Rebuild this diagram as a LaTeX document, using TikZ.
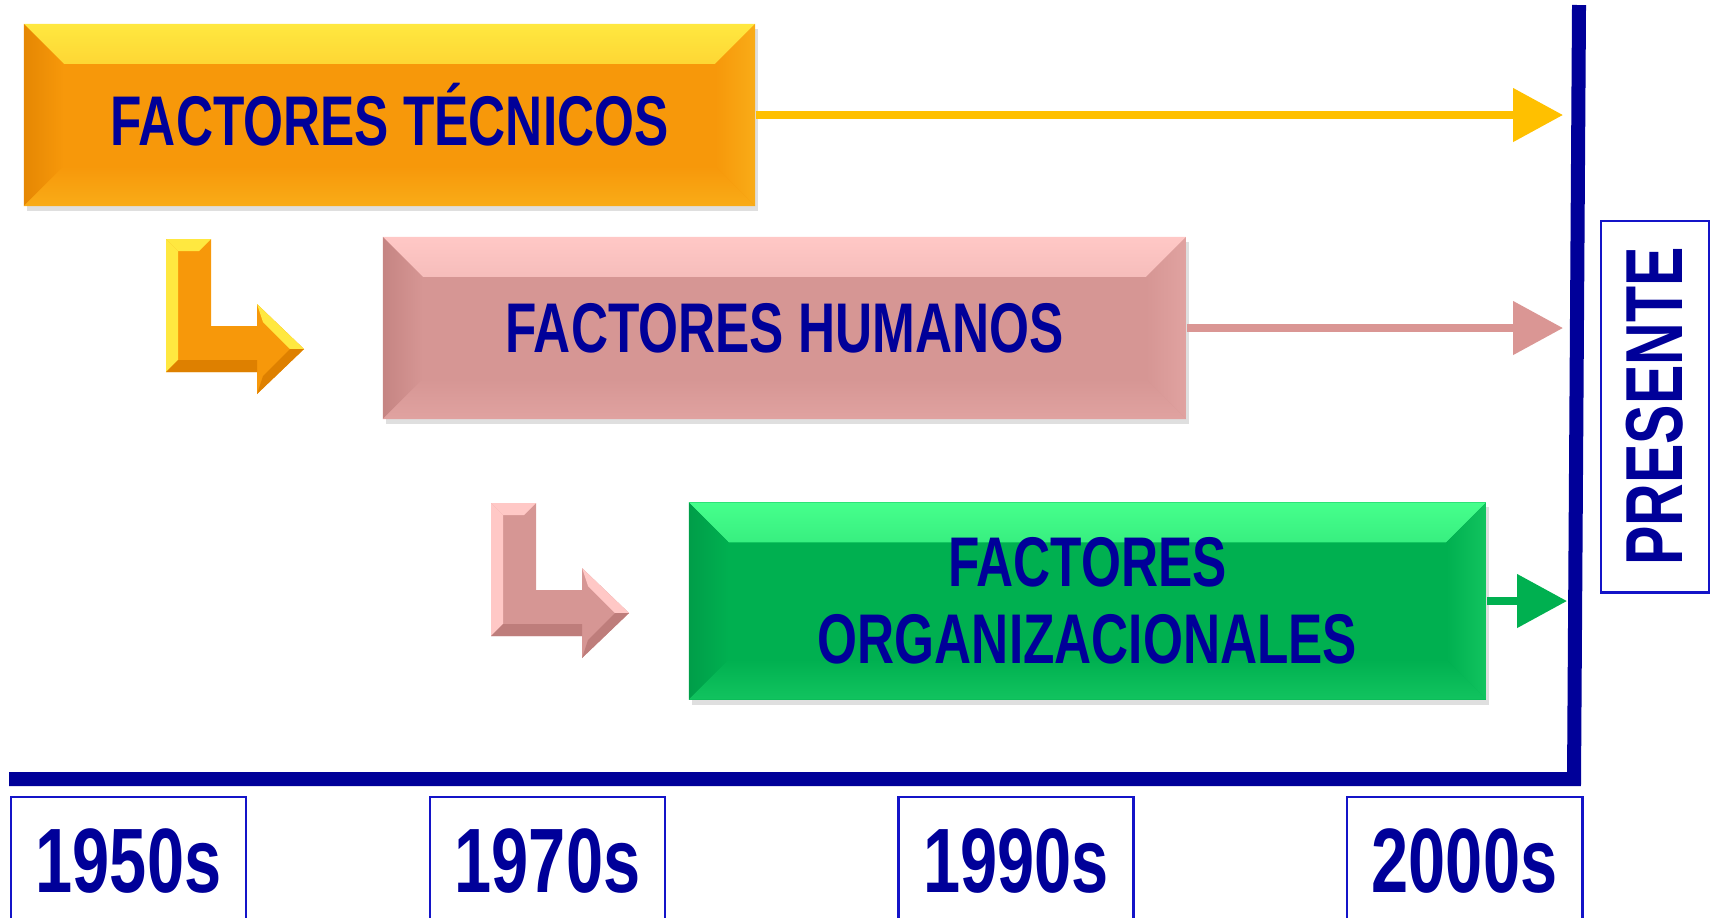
\documentclass[tikz,border=0pt]{standalone}
\usepackage{fontspec}
\setmainfont{Liberation Sans}[FakeStretch=0.73]
\usetikzlibrary{arrows.meta,calc,shadows}
\definecolor{navy}{RGB}{0,0,153}
\definecolor{frame}{RGB}{20,20,200}
\definecolor{tec}{RGB}{247,152,10}
\definecolor{tecLight}{RGB}{255,232,64}
\definecolor{tecDark}{RGB}{222,128,0}
\definecolor{tecLine}{RGB}{255,192,0}
\definecolor{hum}{RGB}{214,150,148}
\definecolor{humLight}{RGB}{255,200,198}
\definecolor{humDark}{RGB}{190,125,123}
\definecolor{humLine}{RGB}{218,150,148}
\definecolor{org}{RGB}{0,176,80}
\definecolor{orgLight}{RGB}{70,255,140}
\definecolor{orgDark}{RGB}{0,150,70}
\def\bevelsize{0.4cm}
% bevelled facets round a factor box (used as path picture)
\newcommand{\bevel}[2]{%
  \shade[top color=#2Light, middle color=#2, bottom color=#2] (#1.north west) -- (#1.north east)
    -- ([shift={(-\bevelsize,-\bevelsize)}]#1.north east) -- ([shift={(\bevelsize,-\bevelsize)}]#1.north west) -- cycle;
  \shade[left color=#2Dark!70!#2, right color=#2] (#1.north west) -- ([shift={(\bevelsize,-\bevelsize)}]#1.north west)
    -- ([shift={(\bevelsize,\bevelsize)}]#1.south west) -- (#1.south west) -- cycle;
  \shade[right color=#2Light!25!#2, left color=#2] (#1.north east) -- ([shift={(-\bevelsize,-\bevelsize)}]#1.north east)
    -- ([shift={(-\bevelsize,\bevelsize)}]#1.south east) -- (#1.south east) -- cycle;
  \shade[bottom color=#2Light!25!#2, top color=#2] (#1.south west) -- (#1.south east)
    -- ([shift={(-\bevelsize,\bevelsize)}]#1.south east) -- ([shift={(\bevelsize,\bevelsize)}]#1.south west) -- cycle;
}

\begin{document}
\begin{tikzpicture}[x=0.01cm, y=-0.01cm]
    \tikzstyle{factor box}=[rectangle, inner sep=0pt, align=center, text=navy,
        font=\bfseries\fontsize{20}{22}\selectfont,
        drop shadow={shadow xshift=0.03cm, shadow yshift=-0.05cm, opacity=0.25}]
    \tikzstyle{flow arrow}=[line width=0.08cm, -{Triangle[length=0.5cm, width=0.52cm]}]
    \tikzstyle{axis line}=[line width=0.14cm, draw=navy]
    \tikzstyle{year box}=[rectangle, draw=frame, line width=0.8pt, text=navy,
        minimum width=2.35cm, minimum height=1.28cm, inner sep=0pt,
        font=\bfseries\fontsize{26}{28}\selectfont]
    \tikzstyle{present box}=[year box, rotate=90, minimum width=3.71cm, minimum height=1.08cm,
        font=\bfseries\fontsize{23}{25}\selectfont]

    \useasboundingbox (0,0) rectangle (1716,917);

    % The three factor boxes
    \node[factor box, fill=tec, minimum width=7.31cm, minimum height=1.82cm,
        path picture={\bevel{path picture bounding box}{tec}}] (tecnicos) at (389.5,115) {FACTORES TÉCNICOS};
    \node[factor box, fill=hum, minimum width=8.03cm, minimum height=1.82cm,
        path picture={\bevel{path picture bounding box}{hum}}] (humanos) at (784.5,328) {FACTORES HUMANOS};
    \node[factor box, fill=org, minimum width=7.97cm, minimum height=1.97cm,
        path picture={\bevel{path picture bounding box}{org}}] (organiz) at (1087.5,601) {FACTORES\\ORGANIZACIONALES};

    % Bent arrows between the factors
    \foreach \dx/\dy/\col in {0/0/tec, 325/264/hum} {
        \begin{scope}[shift={(\dx,\dy)}]
            \fill[\col] (166,239) -- (211,239) -- (211,326) -- (257,326) -- (257,304) -- (304,349)
                -- (257,394) -- (257,372) -- (166,372) -- cycle;
            \fill[\col Light] (166,239) -- (211,239) -- (199,251) -- (178,251) -- cycle;
            \fill[\col Light] (166,239) -- (178,251) -- (178,360) -- (166,372) -- cycle;
            \fill[\col Light] (257,304) -- (304,349) -- (290,349) -- (263,322) -- cycle;
            \fill[\col Dark] (166,372) -- (178,360) -- (257,360) -- (257,372) -- cycle;
            \fill[\col Dark] (304,349) -- (257,394) -- (263,376) -- (290,349) -- cycle;
        \end{scope}
    }

    % Time axes
    \coordinate (axTop) at (1579,5);
    \coordinate (axCorner) at (1574,779);
    \coordinate (axLeft) at (9,779);
    \draw[axis line] (axTop) -- (axCorner) -- (axLeft);

    % Arrows up to the present
    \coordinate (tecEnd) at (1563,115);
    \coordinate (humEnd) at (1563,328);
    \coordinate (orgEnd) at (1567,601);
    \draw[flow arrow, tecLine] (tecnicos.east) -- (tecEnd);
    \draw[flow arrow, humLine] (humanos.east) -- (humEnd);
    \draw[flow arrow, org] (organiz.east) -- (orgEnd);

    % Decades and present
    \foreach \yr/\x in {1950s/128.5, 1970s/547.5, 1990s/1016, 2000s/1464.5}
        \node[year box] (Y-\yr) at (\x,861) {\yr};
    \node[present box] (present) at (1655,406.5) {PRESENTE};
\end{tikzpicture}
\end{document}
